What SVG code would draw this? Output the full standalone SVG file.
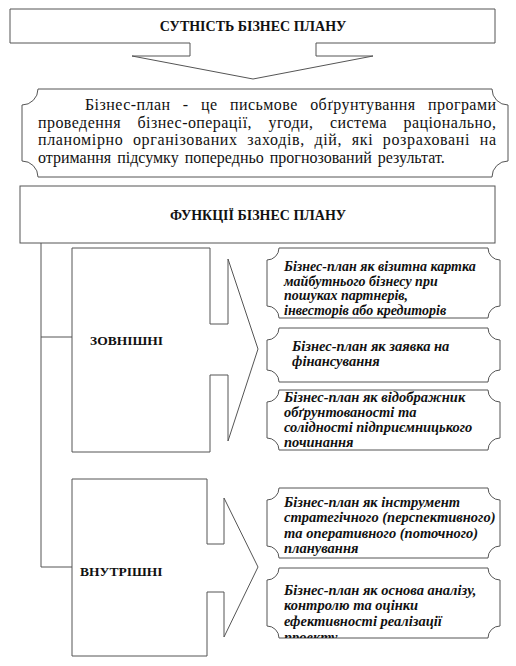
<svg xmlns="http://www.w3.org/2000/svg" width="516" height="666" viewBox="0 0 516 666">
<style>
.sh{fill:#fff;stroke:#555;stroke-width:1}
.ln{fill:none;stroke:#555;stroke-width:1}
text{font-family:'Liberation Serif','Times New Roman','DejaVu Serif',serif;fill:#111}
.tb{font-weight:bold}
.ti{font-weight:bold;font-style:italic;font-size:14.5px}
</style>
<defs>
<clipPath id="c5"><rect x="267" y="568" width="236" height="70"/></clipPath>
</defs>
<rect width="516" height="666" fill="#fff"/>
<g id="essence">
<path class="sh" d="M10,9 H495 V43 H316 V56 H373 L253,79 L132,56 H190 V43 H10 Z"/>
<text class="tb" x="253" y="31" font-size="14" text-anchor="middle">СУТНІСТЬ БІЗНЕС ПЛАНУ</text>
</g>
<g id="definition">
<path class="sh" d="M38,89 H492 A16,16 0 0 0 508,105 V161 A16,16 0 0 0 492,177 H38 A16,16 0 0 0 22,161 V105 A16,16 0 0 0 38,89 Z"/>
<text font-size="16">
<tspan x="85" y="110" word-spacing="8" textLength="411" lengthAdjust="spacing">Бізнес-план  - це письмове обґрунтування програми</tspan>
<tspan x="38" y="127.5" word-spacing="12" textLength="458" lengthAdjust="spacing">проведення бізнес-операції, угоди, система раціонально,</tspan>
<tspan x="38" y="145" word-spacing="5" textLength="458" lengthAdjust="spacing">планомірно організованих заходів, дій, які розраховані на</tspan>
<tspan x="38" y="162.5" word-spacing="2">отримання підсумку попередньо прогнозований результат.</tspan>
</text>
</g>
<g id="functions">
<rect class="sh" x="20" y="186" width="475" height="57"/>
<text class="tb" x="258" y="220" font-size="14" text-anchor="middle">ФУНКЦІЇ БІЗНЕС ПЛАНУ</text>
</g>
<g id="connectors">
<path class="ln" d="M41,243 V567 H72 M41,337 H72"/>
</g>
<g id="external">
<path class="sh" d="M72,248 H210 V324 H228 V259 L258,349 L228,441 V375 H210 V452 H72 Z"/>
<text class="tb" x="90" y="345" font-size="13.5">ЗОВНІШНІ</text>
</g>
<g id="internal">
<path class="sh" d="M72,479 H207 V544 H224 V498 L258,567 L224,637 V592 H207 V656 H72 Z"/>
<text class="tb" x="80" y="576" font-size="13.5">ВНУТРІШНІ</text>
</g>
<g id="f1">
<path class="sh" d="M279,248 H488 A12,12 0 0 0 500,260 V306 A12,12 0 0 0 488,318 H279 A12,12 0 0 0 267,306 V260 A12,12 0 0 0 279,248 Z"/>
<text class="ti" style="font-size:14px"><tspan x="284" y="271">Бізнес-план як візитна картка</tspan><tspan x="284" y="285.5">майбутнього бізнесу при</tspan><tspan x="284" y="300">пошуках партнерів,</tspan><tspan x="284" y="314.5">інвесторів або кредиторів</tspan></text>
</g>
<g id="f2">
<path class="sh" d="M279,328 H488 A12,12 0 0 0 500,340 V370 A12,12 0 0 0 488,382 H279 A12,12 0 0 0 267,370 V340 A12,12 0 0 0 279,328 Z"/>
<text class="ti"><tspan x="292" y="351">Бізнес-план як заявка на</tspan><tspan x="292" y="366">фінансування</tspan></text>
</g>
<g id="f3">
<path class="sh" d="M279,390 H488 A12,12 0 0 0 500,402 V438 A12,12 0 0 0 488,450 H279 A12,12 0 0 0 267,438 V402 A12,12 0 0 0 279,390 Z"/>
<text class="ti"><tspan x="284" y="402">Бізнес-план як відображник</tspan><tspan x="284" y="417">обґрунтованості та</tspan><tspan x="284" y="432">солідності підприємницького</tspan><tspan x="284" y="447">починання</tspan></text>
</g>
<g id="f4">
<path class="sh" d="M279,488 H488 A12,12 0 0 0 500,500 V546 A12,12 0 0 0 488,558 H279 A12,12 0 0 0 267,546 V500 A12,12 0 0 0 279,488 Z"/>
<text class="ti"><tspan x="284" y="507">Бізнес-план як інструмент</tspan><tspan x="284" y="522">стратегічного (перспективного)</tspan><tspan x="284" y="538">та оперативного (поточного)</tspan><tspan x="284" y="553">планування</tspan></text>
</g>
<g id="f5">
<path class="sh" d="M279,568 H488 A12,12 0 0 0 500,580 V626 A12,12 0 0 0 488,638 H279 A12,12 0 0 0 267,626 V580 A12,12 0 0 0 279,568 Z"/>
<text class="ti" clip-path="url(#c5)"><tspan x="284" y="595">Бізнес-план як основа аналізу,</tspan><tspan x="284" y="610">контролю та оцінки</tspan><tspan x="284" y="626">ефективності реалізації</tspan><tspan x="284" y="642">проекту</tspan></text>
</g>
</svg>
